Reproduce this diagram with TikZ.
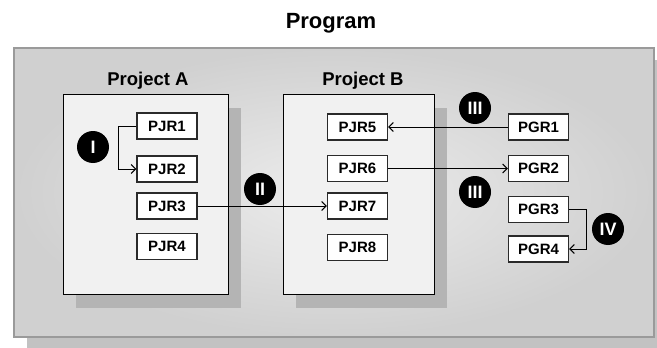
\documentclass[tikz,border=0pt]{standalone}
\usepackage{fontspec}
\setmainfont{Liberation Sans}
\usetikzlibrary{arrows.meta,shadows}
\definecolor{frameline}{HTML}{9A9A9A}
\definecolor{frameinner}{HTML}{ECECEC}
\definecolor{frameouter}{HTML}{D0D0D0}
\definecolor{projfill}{HTML}{F1F1F1}
\definecolor{shadowgray}{HTML}{B4B4B4}
\definecolor{outershadow}{HTML}{C2C2C2}
\definecolor{boxline}{HTML}{2A2A2A}
\begin{document}
\begin{tikzpicture}[x=1pt,y=-1pt,
  frame/.style={draw=frameline,line width=1.5pt,inner color=frameinner,outer color=frameouter,
    anchor=north west,inner sep=0pt,
    drop shadow={shadow xshift=13pt,shadow yshift=-12pt,fill=outershadow,opacity=1}},
  project/.style={draw=black,line width=1.1pt,fill=projfill,anchor=north west,inner sep=0pt,
    drop shadow={shadow xshift=12pt,shadow yshift=-13pt,fill=shadowgray,opacity=1}},
  title/.style={font=\fontsize{22}{26}\selectfont\bfseries,anchor=base},
  plabel/.style={font=\fontsize{18.5}{22}\selectfont\bfseries,anchor=base},
  rbox/.style={draw=boxline,line width=1.2pt,fill=white,minimum width=60pt,minimum height=26pt,
    inner sep=0pt,font=\fontsize{15}{18}\selectfont\bfseries},
  badge/.style={circle,fill=black,minimum size=32pt,inner sep=0pt,text=white,
    font=\fontsize{18}{20}\selectfont\bfseries},
  arr/.style={draw=black,line width=0.9pt,-{Straight Barb[length=4.5pt,width=9pt,line width=1pt]}}
]
\useasboundingbox (0,0) rectangle (657,348);

\node (title) [title] at (331,28) {Program};
\node (program) [frame,minimum width=640pt,minimum height=289pt] at (13,47) {};

\node (projA) [project,minimum width=165pt,minimum height=200pt] at (63,94) {};
\node (projB) [project,minimum width=151pt,minimum height=200pt] at (283,94) {};
\node (labA) [plabel] at (148,85) {Project A};
\node (labB) [plabel] at (363,85) {Project B};

\node (PJR1) [rbox] at (167,126) {PJR1};
\node (PJR2) [rbox] at (167,169) {PJR2};
\node (PJR3) [rbox] at (167,206) {PJR3};
\node (PJR4) [rbox] at (167,246.5) {PJR4};

\node (PJR5) [rbox] at (357.5,127) {PJR5};
\node (PJR6) [rbox] at (357.5,168.5) {PJR6};
\node (PJR7) [rbox] at (357.5,206) {PJR7};
\node (PJR8) [rbox] at (357.5,247.5) {PJR8};

\node (PGR1) [rbox] at (538.5,127) {PGR1};
\node (PGR2) [rbox] at (538.5,168.5) {PGR2};
\node (PGR3) [rbox] at (538.5,209.5) {PGR3};
\node (PGR4) [rbox] at (538.5,249) {PGR4};

\draw[arr] (PJR1.west) -- ++(-18,0) |- (PJR2.west);
\draw[arr] (PJR3.east) -- (PJR7.west);
\draw[arr] (PGR1.west) -- (PJR5.east);
\draw[arr] (PJR6.east) -- (PGR2.west);
\draw[arr] (PGR3.east) -- ++(17,0) |- (PGR4.east);

\node (bI) [badge] at (93,147) {I};
\node (bII) [badge] at (260,189) {II};
\node (bIIIa) [badge] at (475,108) {III};
\node (bIIIb) [badge] at (475,192) {III};
\node (bIV) [badge] at (608,229) {IV};
\end{tikzpicture}
\end{document}
